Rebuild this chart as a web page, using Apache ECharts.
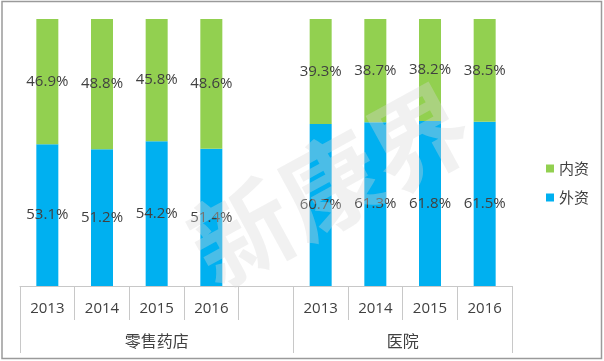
<!DOCTYPE html>
<html>
<head>
<meta charset="utf-8">
<script src="https://cdn.jsdelivr.net/npm/echarts@6/dist/echarts.min.js"></script>
<style>html,body{margin:0;padding:0;background:#fff}#c{width:604px;height:361px}</style>
</head>
<body>
<div id="c"></div>
<script>
// ---- data ----
var years = ['2013', '2014', '2015', '2016', '', '2013', '2014', '2015', '2016'];
var groups = ['零售药店', '医院'];
var groupSizes = [5, 4];           // slots per group (retail includes one blank slot)
var foreignShare = [53.1, 51.2, 54.2, 51.4, null, 60.7, 61.3, 61.8, 61.5];   // 外资
var domesticShare = [46.9, 48.8, 45.8, 48.6, null, 39.3, 38.7, 38.2, 38.5];  // 内资
var seriesNames = ['内资', '外资'];

// ---- group axis built at half-slot resolution ----
var halfCount = years.length * 2 + 1;
var halfKeys = [];
var halfLabels = [];
for (var i = 0; i < halfCount; i++) { halfKeys.push('h' + i); halfLabels.push(''); }
var boundaries = {};
var start = 0;
for (var g = 0; g < groups.length; g++) {
  boundaries[2 * start] = true;
  halfLabels[2 * start + groupSizes[g]] = groups[g];
  start += groupSizes[g];
}
boundaries[2 * start] = true;

var lineColor = '#c8c8c8';
var textColor = '#404040';
var numFont = 'Open Sans';
var cjkFont = 'Noto Sans CJK SC';

var chart = echarts.init(document.getElementById('c'), null, {renderer: 'canvas'});
chart.setOption({
  animation: false,
  backgroundColor: '#fff',
  grid: {left: 20, right: 92, top: 19, bottom: 75, containLabel: false},
  legend: {
    orient: 'vertical', left: 541, top: 156,
    itemWidth: 8, itemHeight: 8, itemGap: 14, icon: 'rect',
    data: seriesNames,
    textStyle: {fontSize: 15, color: textColor, fontFamily: cjkFont}
  },
  xAxis: [{
    type: 'category', data: years, position: 'bottom',
    axisLine: {show: true, lineStyle: {color: lineColor, width: 1}},
    axisTick: {show: true, interval: 0, length: 34, lineStyle: {color: lineColor}},
    axisLabel: {interval: 0, margin: 15, fontSize: 15, color: textColor, fontFamily: numFont}
  }, {
    type: 'category', data: halfKeys, position: 'bottom', boundaryGap: false,
    axisLine: {show: false},
    axisTick: {show: true, length: 67, lineStyle: {color: lineColor},
      interval: function (idx) { return !!boundaries[idx]; }},
    axisLabel: {interval: 0, margin: 47, fontSize: 16, color: textColor, fontFamily: cjkFont,
      formatter: function (v, idx) { return halfLabels[idx] || ''; }}
  }],
  yAxis: {type: 'value', min: 0, max: 100, show: false},
  series: [{
    name: '外资', type: 'bar', stack: 'share', xAxisIndex: 0, barWidth: 22,
    data: foreignShare,
    itemStyle: {color: '#00b0f0'},
    label: {show: true, position: 'inside', color: textColor, fontSize: 15, fontFamily: numFont,
      formatter: function (p) { return p.value == null ? '' : p.value.toFixed(1) + '%'; }}
  }, {
    name: '内资', type: 'bar', stack: 'share', xAxisIndex: 0, barWidth: 22,
    data: domesticShare,
    itemStyle: {color: '#92d050'},
    label: {show: true, position: 'inside', color: textColor, fontSize: 15, fontFamily: numFont,
      formatter: function (p) { return p.value == null ? '' : p.value.toFixed(1) + '%'; }}
  }],
  graphic: [{
    type: 'rect', silent: true, z: 100,
    shape: {x: 2, y: 1.5, width: 599.5, height: 357},
    style: {fill: 'none', stroke: '#9a9a9a', lineWidth: 1.5}
  }, {
    type: 'text', silent: true, z: 100,
    x: 330, y: 185, rotation: 0.5,
    style: {text: '新康界', fontSize: 100, fontWeight: 'bold', fontFamily: cjkFont,
      fill: 'rgba(215,215,215,0.35)', align: 'center', verticalAlign: 'middle'}
  }]
});
</script>
</body>
</html>
